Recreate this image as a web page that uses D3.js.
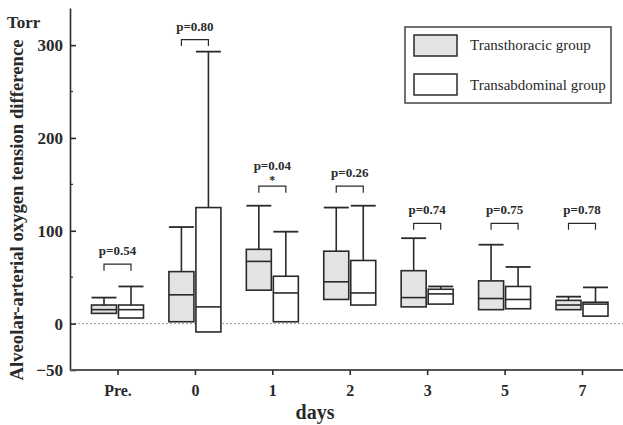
<!DOCTYPE html>
<html>
<head>
<meta charset="utf-8">
<script src="https://cdn.jsdelivr.net/npm/d3@7"></script>
<style>
  body { margin: 0; background: #fff; }
  text { font-family: "Liberation Serif", "DejaVu Serif", serif; }
</style>
</head>
<body>
<svg id="chart"></svg>
<script>
// days on the x axis
var days = ["Pre.", "0", "1", "2", "3", "5", "7"];

// transthoracic group (grey boxes)
var thoracicHigh   = [28, 104, 127, 125, 92, 85, 29];
var thoracicQ3     = [20, 56, 80, 78, 57, 46, 25];
var thoracicMedian = [15, 31, 67, 45, 28, 27, 20];
var thoracicQ1     = [11, 2, 36, 26, 18, 15, 15];

// transabdominal group (white boxes)
var abdominalHigh   = [40, 293, 99, 127, 40, 61, 39];
var abdominalQ3     = [20, 125, 51, 68, 37, 40, 23];
var abdominalMedian = [15, 18, 33, 33, 32, 26, 21];
var abdominalQ1     = [6, -9, 2, 20, 21, 16, 8];

// p values and bracket heights (Torr)
var pLabels = ["p=0.54", "p=0.80", "p=0.04", "p=0.26", "p=0.74", "p=0.75", "p=0.78"];
var stars = ["", "", "*", "", "", "", ""];
var bracketLevel = [64, 306, 148, 148, 108, 108, 108];

var yTicks = [-50, 0, 100, 200, 300];
var yMinor = [50, 150, 250];

var svgWidth = 623, svgHeight = 425;
var plotLeft = 70, plotRight = 623, plotTop = 8, plotBottom = 370;
var boxW = 25;
var ink = "#2a2a2a";

var svg = d3.select("#chart")
  .attr("width", svgWidth)
  .attr("height", svgHeight);

var x = d3.scalePoint()
  .domain(days)
  .range([117.5, 582]);

var y = d3.scaleLinear()
  .domain([-50, 340])
  .range([plotBottom, plotTop]);

// dotted zero line
svg.append("line")
  .attr("x1", plotLeft).attr("x2", plotRight)
  .attr("y1", y(0)).attr("y2", y(0))
  .attr("stroke", "#999")
  .attr("stroke-width", 1)
  .attr("stroke-dasharray", "2,2");

// boxes
function drawGroup(high, q3, med, q1, offset, fill) {
  var g = svg.append("g");
  days.forEach(function(d, i) {
    var x0 = x(d) + offset;
    var cx = x0 + boxW / 2;
    g.append("line")
      .attr("x1", cx).attr("x2", cx)
      .attr("y1", y(high[i])).attr("y2", y(q3[i]))
      .attr("stroke", ink).attr("stroke-width", 1.6);
    g.append("line")
      .attr("x1", x0).attr("x2", x0 + boxW)
      .attr("y1", y(high[i])).attr("y2", y(high[i]))
      .attr("stroke", ink).attr("stroke-width", 1.8);
    g.append("rect")
      .attr("x", x0)
      .attr("y", y(q3[i]))
      .attr("width", boxW)
      .attr("height", y(q1[i]) - y(q3[i]))
      .attr("fill", fill)
      .attr("stroke", ink)
      .attr("stroke-width", 1.6);
    g.append("line")
      .attr("x1", x0).attr("x2", x0 + boxW)
      .attr("y1", y(med[i])).attr("y2", y(med[i]))
      .attr("stroke", ink).attr("stroke-width", 1.6);
  });
}

drawGroup(thoracicHigh, thoracicQ3, thoracicMedian, thoracicQ1, -26, "#e3e3e3");
drawGroup(abdominalHigh, abdominalQ3, abdominalMedian, abdominalQ1, 1, "#fff");

// brackets and p values
days.forEach(function(d, i) {
  var a = x(d) - 13.5, b = x(d) + 13.5, yb = y(bracketLevel[i]);
  svg.append("path")
    .attr("d", "M" + a + "," + (yb + 6.5) + "V" + yb + "H" + b + "V" + (yb + 6.5))
    .attr("fill", "none")
    .attr("stroke", ink)
    .attr("stroke-width", 1.2);
  svg.append("text")
    .attr("x", x(d))
    .attr("y", yb - (stars[i] ? 16 : 9))
    .attr("text-anchor", "middle")
    .attr("font-size", 13)
    .attr("font-weight", "bold")
    .attr("fill", ink)
    .text(pLabels[i]);
  if (stars[i]) {
    svg.append("text")
      .attr("x", x(d))
      .attr("y", yb - 2)
      .attr("text-anchor", "middle")
      .attr("font-size", 12)
      .attr("font-weight", "bold")
      .attr("fill", ink)
      .text(stars[i]);
  }
});

// y axis
var yAxis = svg.append("g")
  .attr("transform", "translate(" + plotLeft + ",0)")
  .call(d3.axisLeft(y).tickValues(yTicks).tickSizeInner(-6).tickSizeOuter(0).tickPadding(7));
yAxis.select(".domain").attr("stroke", ink).attr("stroke-width", 1.6);
yAxis.selectAll(".tick line").attr("stroke", ink).attr("stroke-width", 1.6);
yAxis.selectAll(".tick text")
  .attr("font-family", "Liberation Serif")
  .attr("font-size", 17)
  .attr("font-weight", "bold")
  .attr("fill", ink);

svg.append("g")
  .attr("transform", "translate(" + plotLeft + ",0)")
  .selectAll("line")
  .data(yMinor)
  .enter()
  .append("line")
  .attr("x1", 0).attr("x2", 3)
  .attr("y1", function(d) { return y(d); })
  .attr("y2", function(d) { return y(d); })
  .attr("stroke", ink)
  .attr("stroke-width", 1.2);

// x axis
var xAxis = svg.append("g")
  .attr("transform", "translate(0," + plotBottom + ")")
  .call(d3.axisBottom(x).tickSizeInner(5).tickSizeOuter(0).tickPadding(10));
xAxis.select(".domain")
  .attr("d", "M" + plotLeft + ",0H" + plotRight)
  .attr("stroke", "#555").attr("stroke-width", 2);
xAxis.selectAll(".tick line").attr("stroke", ink).attr("stroke-width", 1.6);
xAxis.selectAll(".tick text")
  .attr("font-family", "Liberation Serif")
  .attr("font-size", 16)
  .attr("font-weight", "bold")
  .attr("fill", ink);

// axis titles
svg.append("text")
  .attr("x", 7).attr("y", 28)
  .attr("font-size", 17)
  .attr("font-weight", "bold")
  .attr("fill", ink)
  .text("Torr");

svg.append("text")
  .attr("transform", "translate(23,210) rotate(-90)")
  .attr("text-anchor", "middle")
  .attr("font-size", 18.7)
  .attr("font-weight", "bold")
  .attr("fill", ink)
  .text("Alveolar-arterial oxygen tension difference");

svg.append("text")
  .attr("x", 315).attr("y", 419)
  .attr("text-anchor", "middle")
  .attr("font-size", 20)
  .attr("font-weight", "bold")
  .attr("fill", ink)
  .text("days");

// legend
var legend = svg.append("g");
legend.append("rect")
  .attr("x", 405).attr("y", 27)
  .attr("width", 206).attr("height", 76)
  .attr("fill", "#fff")
  .attr("stroke", "#444")
  .attr("stroke-width", 1.5);

var legendItems = [
  { name: "Transthoracic group", fill: "#e3e3e3" },
  { name: "Transabdominal group", fill: "#fff" }
];
legendItems.forEach(function(item, i) {
  legend.append("rect")
    .attr("x", 414).attr("y", 35 + i * 39)
    .attr("width", 43).attr("height", 21)
    .attr("fill", item.fill)
    .attr("stroke", ink)
    .attr("stroke-width", 1.5);
  legend.append("text")
    .attr("x", 470).attr("y", 50 + i * 40)
    .attr("font-size", 15)
    .attr("fill", ink)
    .text(item.name);
});
</script>
</body>
</html>
